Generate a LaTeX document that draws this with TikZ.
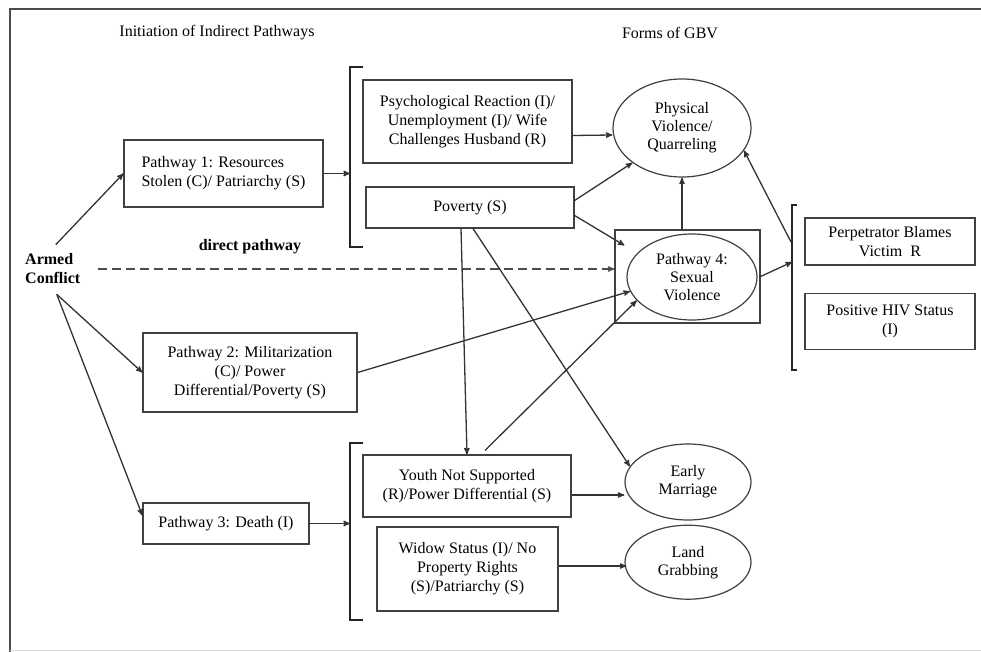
\documentclass[tikz,border=0pt]{standalone}
\usepackage{fontspec}
\setmainfont{Liberation Serif}
\usetikzlibrary{arrows,positioning,shapes.geometric}
\tikzset{
    %Define standard arrow tip
    >=stealth',
    %Define style for plain text
    plain/.style={
           inner sep=2pt,
           align=center,
           font=\fontsize{16}{19}\selectfont},
    %Define style for boxes
    box/.style={
           rectangle,
           draw=black!75, line width=1.2pt,
           inner sep=2pt,
           align=center,
           font=\fontsize{16}{19}\selectfont},
    %Define style for the forms of GBV
    form/.style={
           ellipse,
           draw=black!75, line width=1.2pt,
           inner sep=0pt,
           align=center,
           font=\fontsize{16}{18}\selectfont},
    % Define arrow style
    imply/.style={
           ->,
           draw=black!80,
           line width=1.3pt},
    direct/.style={
           ->,
           draw=black!70,
           line width=1.3pt,
           dash pattern=on 9pt off 5pt},
    bracket/.style={
           draw=black!85,
           line width=1.8pt}
}

\begin{document}
\begin{tikzpicture}[x=1pt,y=-1pt]
 \useasboundingbox (0,0) rectangle (981,652);
 %frame
    \draw[black!70, line width=1.2pt] (10,652) -- (10,9) -- (981,9);
    \draw[black!15] (10,650) -- (981,650);
 %headings
    \node[plain] (hdpath) at (217,33) {Initiation of Indirect Pathways};
    \node[plain] (hdform) at (670,33) {Forms of GBV};
 %nodes
    \node[plain, anchor=west, align=left, font=\fontsize{16}{19}\selectfont\bfseries] (armed) at (23,269) {Armed\\Conflict};
    \node[plain, font=\fontsize{16}{19}\selectfont\bfseries] (dlabel) at (250,247) {direct pathway};
    \node[box, minimum width=199pt, minimum height=67pt, align=left] (p1) at (223.5,173.5) {Pathway 1: Resources\\Stolen (C)/ Patriarchy (S)};
    \node[box, minimum width=214pt, minimum height=79pt] (p2) at (250,372.5) {Pathway 2: Militarization\\(C)/ Power\\Differential/Poverty (S)};
    \node[box, minimum width=166pt, minimum height=41pt] (p3) at (226,523.5) {Pathway 3: Death (I)};
    \node[box, minimum width=209pt, minimum height=83pt] (psych) at (467.5,121.5) {Psychological Reaction (I)/\\Unemployment (I)/ Wife\\Challenges Husband (R)};
    \node[box, minimum width=208pt, minimum height=41pt] (poverty) at (470,207.5) {Poverty (S)};
    \node[box, minimum width=208pt, minimum height=62pt] (youth) at (467,486) {Youth Not Supported\\(R)/Power Differential (S)};
    \node[box, minimum width=181pt, minimum height=84pt] (widow) at (467.5,569) {Widow Status (I)/ No\\Property Rights\\(S)/Patriarchy (S)};
    \node[form, minimum width=138pt, minimum height=98pt] (phys) at (682,128) {Physical\\Violence/\\Quarreling};
    \node[box, minimum width=145pt, minimum height=93pt] (p4box) at (687.5,276.5) {};
    \node[form, minimum width=130pt, minimum height=86pt] (sexual) at (692,277) {Pathway 4:\\Sexual\\Violence};
    \node[form, minimum width=126pt, minimum height=76pt] (early) at (688,482) {Early\\Marriage};
    \node[form, minimum width=126pt, minimum height=74pt, below=4pt of early] (land) {Land\\Grabbing};
    \node[box, minimum width=170pt, minimum height=47pt] (perp) at (890,241.5) {Perpetrator Blames\\Victim\ \ R};
    \node[box, minimum width=170pt, minimum height=56pt, below=27pt of perp] (hiv) {Positive HIV Status\\(I)};
 %brackets
    \draw[bracket] (363,67) -- (350,67) -- (350,247) -- (363,247);
    \draw[bracket] (363,443) -- (350,443) -- (350,620) -- (363,620);
    \draw[bracket] (797,205) -- (792,205) -- (792,370) -- (797,370);
    \coordinate (br1) at (350,173.5);
    \coordinate (br2) at (350,523.5);
    \coordinate (br3in) at (792,262);
    \coordinate (br3out) at (791,242);
 %edges
    \draw[imply] ([xshift=3pt,yshift=7pt]armed.north) -- (p1.west);
    \draw[imply] ([xshift=4pt,yshift=-8pt]armed.south) -- (p2.west);
    \draw[imply] ([xshift=4pt,yshift=-8pt]armed.south) -- ([yshift=8pt]p3.west);
    \draw[direct] ([xshift=15pt]armed.east) -- (p4box.west |- armed.east);
    \draw[imply] (p1.east) -- (br1);
    \draw[imply] (p3.east) -- (br2);
    \draw[imply] ([yshift=-14pt]psych.east) -- ([yshift=-7pt]phys.west);
    \draw[imply] ([yshift=7pt]poverty.east) -- (phys.215);
    \draw[imply] ([yshift=-8pt]poverty.east) -- ([xshift=10pt,yshift=-16pt]p4box.north west);
    \draw[imply] ([xshift=-9pt]poverty.south) -- (youth.north);
    \draw[imply] ([xshift=3pt]poverty.south) -- (early.165);
    \draw[imply] (phys.south |- p4box.north) -- (phys.south);
    \draw[imply] (p2.east) -- (sexual.193);
    \draw[imply] ([xshift=18pt,yshift=4pt]youth.north) -- (sexual.203);
    \draw[imply] ([yshift=-9pt]youth.east) -- ([yshift=-9pt]youth.east -| early.west);
    \draw[imply] ([yshift=3pt]widow.east) -- ([yshift=3pt,xshift=2pt]widow.east -| land.west);
    \draw[imply] (p4box.east) -- (br3in);
    \draw[imply] (br3out) -- (phys.340);
\end{tikzpicture}
\end{document}
